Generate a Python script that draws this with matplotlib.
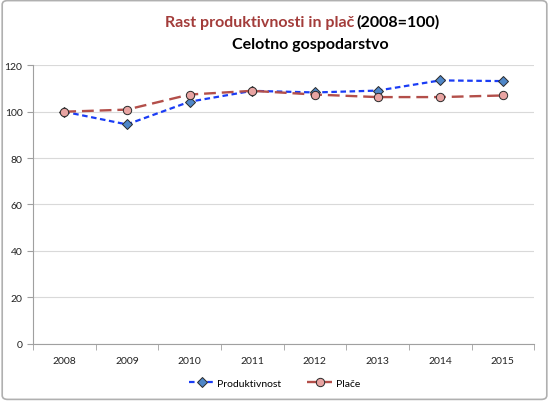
import matplotlib
matplotlib.use("Agg")
import matplotlib.pyplot as plt
from matplotlib.patches import FancyBboxPatch
from matplotlib.ticker import FixedLocator, NullFormatter

years = ["2008", "2009", "2010", "2011", "2012", "2013", "2014", "2015"]
produktivnost = [100, 94.5, 104.3, 109.0, 108.3, 109.1, 113.5, 113.2]
place = [100, 100.9, 107.4, 109.0, 107.4, 106.3, 106.3, 107.0]
yticks = [0, 20, 40, 60, 80, 100, 120]

plt.rcParams['font.family'] = ['Lato', 'DejaVu Sans']

fig = plt.figure(figsize=(5.49, 4.02), dpi=100)
fig.patch.set_facecolor("white")
border = FancyBboxPatch((0.004, 0.004), 0.992, 0.992, boxstyle="round,pad=0,rounding_size=0.01",
                        transform=fig.transFigure, fill=False, edgecolor="#b0b0b0", linewidth=1.2)
fig.patches.append(border)

ax = fig.add_axes([0.060, 0.143, 0.913, 0.692])
x = list(range(len(years)))
ax.plot(x, produktivnost, linestyle=(0, (2.5, 1.6)), color="#1a3cf5", linewidth=1.6,
        marker="D", markersize=4.8, markerfacecolor="#4f87c8", markeredgecolor="#2a2a2a",
        markeredgewidth=0.7, label="Produktivnost", zorder=2)
ax.plot(x, place, linestyle=(0, (5, 2.5)), color="#b34f4a", linewidth=1.7,
        marker="o", markersize=6, markerfacecolor="#e8a4a2", markeredgecolor="#2a2a2a",
        markeredgewidth=0.7, label="Plače", zorder=3)

ax.set_xlim(-0.5, len(years) - 0.5)
ax.set_ylim(0, 120)
ax.set_yticks(yticks)
ax.set_xticks(x)
ax.set_xticklabels(years)
ax.xaxis.set_minor_locator(FixedLocator([i - 0.5 for i in range(len(years) + 1)]))
ax.xaxis.set_minor_formatter(NullFormatter())
ax.tick_params(axis="x", which="major", length=0, labelsize=7.5, pad=9, colors="#222222")
ax.tick_params(axis="x", which="minor", length=4, color="#a0a0a0", direction="out")
ax.tick_params(axis="y", length=4, color="#a0a0a0", labelsize=7.5, colors="#222222", direction="out")
ax.grid(axis="y", color="#d9d9d9", linewidth=0.8)
ax.set_axisbelow(True)
for s in ["top", "right"]:
    ax.spines[s].set_visible(False)
for s in ["left", "bottom"]:
    ax.spines[s].set_color("#a0a0a0")
    ax.spines[s].set_linewidth(0.8)

leg = fig.legend(loc="center", bbox_to_anchor=(0.5, 0.045), ncol=2, frameon=False,
                 fontsize=7.5, handlelength=2.4, columnspacing=2.5, handletextpad=0.3)

fig.text(0.645, 0.944, "Rast produktivnosti in plač", color="#a33c3a", fontsize=11.5,
         fontweight="bold", ha="right", va="center")
fig.text(0.650, 0.944, "(2008=100)", color="black", fontsize=11.5,
         fontweight="bold", ha="left", va="center")
fig.text(0.565, 0.888, "Celotno gospodarstvo", color="black", fontsize=11.5,
         fontweight="bold", ha="center", va="center")

fig.savefig("out.png", dpi=100)
